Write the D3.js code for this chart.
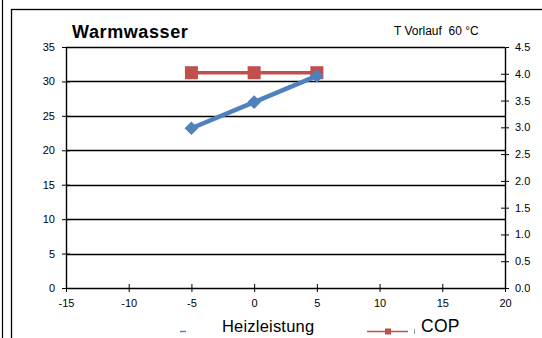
<!DOCTYPE html>
<html><head><meta charset="utf-8">
<script src="https://cdn.jsdelivr.net/npm/d3@7"></script>
<style>
html,body{margin:0;padding:0;background:#fff;}
svg{display:block;font-family:"Liberation Sans",Arial,sans-serif;}
</style></head>
<body>
<svg id="c" width="542" height="338"></svg>
<script>
const xValues = [-5, 0, 5];
const heizleistung = [23.2, 27.0, 30.8];
const cop = [4.02, 4.02, 4.02];
const xTicks = [-15, -10, -5, 0, 5, 10, 15, 20];
const yLeftTicks = [0, 5, 10, 15, 20, 25, 30, 35];
const yRightTicks = [0, 0.5, 1, 1.5, 2, 2.5, 3, 3.5, 4, 4.5];
const seriesNames = ["Heizleistung", "COP"];
const title = "Warmwasser";
const subtitle = "T Vorlauf  60 °C";

const svg = d3.select("#c");
const L = 66, R = 505, T = 47, B = 288;
const x = d3.scaleLinear().domain([-15, 20]).range([L, R]);
const yL = d3.scaleLinear().domain([0, 35]).range([B, T]);
const yR = d3.scaleLinear().domain([0, 4.5]).range([B, T]);

// frame
svg.append("line").attr("x1", 2.5).attr("x2", 2.5).attr("y1", 0).attr("y2", 338).attr("stroke", "#000").attr("stroke-width", 1.2);
svg.append("rect").attr("x", 11.5).attr("y", 9.5).attr("width", 540).attr("height", 340)
  .attr("fill", "none").attr("stroke", "#000").attr("stroke-width", 1.3);

// gridlines
svg.append("g").selectAll("line").data(yLeftTicks.filter(d => d > 0)).join("line")
  .attr("x1", L).attr("x2", R).attr("y1", d => Math.round(yL(d)) + 0.5).attr("y2", d => Math.round(yL(d)) + 0.5)
  .attr("stroke", "#000").attr("stroke-width", 1.4);

// axes
function styleAxis(g) {
  g.select(".domain").attr("stroke", "#000").attr("stroke-width", 1.4);
  g.selectAll(".tick line").attr("stroke", "#000");
  g.selectAll(".tick text").attr("font-size", "11px").attr("fill", "#000");
}
const gx = svg.append("g").attr("transform", `translate(0,${B})`)
  .call(d3.axisBottom(x).tickValues(xTicks).tickSize(4).tickSizeOuter(0).tickPadding(5).tickFormat(d => String(d)));
gx.selectAll(".tick line").attr("y1", -4);
styleAxis(gx);
gx.selectAll(".tick text").attr("dy", "0.95em");

const gl = svg.append("g").attr("transform", `translate(${L},0)`)
  .call(d3.axisLeft(yL).tickValues(yLeftTicks).tickSize(4).tickSizeOuter(0).tickPadding(7).tickFormat(d => String(d)));
gl.selectAll(".tick line").attr("x1", 4);
styleAxis(gl);

const gr = svg.append("g").attr("transform", `translate(${R},0)`)
  .call(d3.axisRight(yR).tickValues(yRightTicks).tickSize(4).tickSizeOuter(0).tickPadding(6).tickFormat(d => d.toFixed(1)));
gr.selectAll(".tick line").attr("x1", -4);
styleAxis(gr);

// series
const blue = "#4F81BD", red = "#C0504D";
const lineL = d3.line().x((d, i) => x(xValues[i])).y(d => yL(d));
const lineR = d3.line().x((d, i) => x(xValues[i])).y(d => yR(d));

svg.append("path").datum(cop).attr("d", lineR).attr("fill", "none").attr("stroke", red).attr("stroke-width", 3.5);
svg.append("g").selectAll("rect").data(cop).join("rect")
  .attr("x", (d, i) => x(xValues[i]) - 6.5).attr("y", d => yR(d) - 6.5).attr("width", 13).attr("height", 13).attr("fill", red);

svg.append("path").datum(heizleistung).attr("d", lineL).attr("fill", "none").attr("stroke", blue).attr("stroke-width", 4.5);
const diamond = d3.symbol().type(d3.symbolDiamond2).size(120);
svg.append("g").selectAll("path").data(heizleistung).join("path")
  .attr("d", diamond).attr("transform", (d, i) => `translate(${x(xValues[i])},${yL(d)})`).attr("fill", blue);

// titles
svg.append("text").attr("x", 72).attr("y", 38).attr("font-size", "18px").attr("font-weight", "bold")
  .attr("letter-spacing", "0.6px").text(title);
svg.append("text").attr("x", 394).attr("y", 35).attr("font-size", "12px").attr("xml:space", "preserve")
  .style("white-space", "pre").text(subtitle);

// legend
const lg = svg.append("g");
lg.append("line").attr("x1", 180).attr("x2", 186).attr("y1", 331.5).attr("y2", 331.5).attr("stroke", blue).attr("stroke-width", 1.5);
lg.append("text").attr("x", 222).attr("y", 332).attr("font-size", "16.5px").attr("letter-spacing", "0.2px").text(seriesNames[0]);
lg.append("line").attr("x1", 367).attr("x2", 408).attr("y1", 331.5).attr("y2", 331.5).attr("stroke", red).attr("stroke-width", 1.5);
lg.append("rect").attr("x", 385).attr("y", 328.5).attr("width", 6).attr("height", 6).attr("fill", red);
lg.append("line").attr("x1", 414.5).attr("x2", 414.5).attr("y1", 329).attr("y2", 334).attr("stroke", "#999").attr("stroke-width", 1);
lg.append("text").attr("x", 421).attr("y", 332).attr("font-size", "17.5px").attr("letter-spacing", "0.3px").text(seriesNames[1]);
</script>
</body></html>
